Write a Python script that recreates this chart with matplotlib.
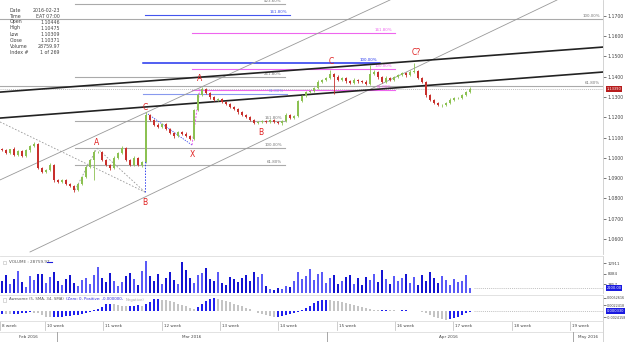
import numpy as np
import matplotlib
matplotlib.use("Agg")
import matplotlib.pyplot as plt
from matplotlib.patches import Rectangle

W, H = 625, 342

# ---- EUR/USD bars ----
first_open = 1.10446
closes = [
    1.1039, 1.1024, 1.1043, 1.1014, 1.1034, 1.1009, 1.1039, 1.1058, 1.1068, 1.0950,
    1.0930, 1.0940, 1.0965, 1.0891, 1.0881, 1.0891, 1.0871, 1.0861, 1.0841, 1.0871,
    1.0905, 1.0955, 1.0989, 1.1029, 1.1029, 1.0989, 1.0965, 1.0950, 1.0999, 1.1024,
    1.1048, 1.0989, 1.0965, 1.0999, 1.0965, 1.0979, 1.1211, 1.1186, 1.1162, 1.1152,
    1.1167, 1.1142, 1.1122, 1.1108, 1.1127, 1.1117, 1.1108, 1.1093, 1.1236, 1.1310,
    1.1339, 1.1320, 1.1300, 1.1285, 1.1290, 1.1275, 1.1265, 1.1250, 1.1241, 1.1226,
    1.1211, 1.1201, 1.1186, 1.1172, 1.1177, 1.1181, 1.1177, 1.1186, 1.1177, 1.1172,
    1.1181, 1.1211, 1.1196, 1.1206, 1.1280, 1.1305, 1.1324, 1.1329, 1.1344, 1.1374,
    1.1384, 1.1393, 1.1413, 1.1398, 1.1384, 1.1393, 1.1379, 1.1369, 1.1384, 1.1379,
    1.1374, 1.1364, 1.1413, 1.1423, 1.1398, 1.1374, 1.1393, 1.1384, 1.1398, 1.1408,
    1.1418, 1.1408, 1.1423, 1.1428, 1.1393, 1.1374, 1.1310, 1.1285, 1.1270, 1.1260,
    1.1260, 1.1270, 1.1285, 1.1295, 1.1295, 1.1310, 1.1324, 1.1339]
# wick lengths beyond the body, in pips
upper_wick = [
    4, 6, 3, 8, 5, 4, 7, 5, 9, 3,
    6, 4, 8, 3, 5, 6, 4, 7, 3, 5,
    6, 8, 5, 12, 4, 5, 7, 3, 8, 6,
    10, 4, 6, 9, 5, 4, 15, 6, 3, 8,
    5, 4, 7, 6, 3, 5, 8, 4, 6, 10,
    8, 5, 4, 6, 3, 7, 5, 4, 6, 3,
    5, 4, 3, 6, 5, 4, 7, 5, 3, 6,
    4, 8, 5, 3, 6, 5, 7, 4, 6, 8,
    5, 7, 20, 6, 9, 5, 7, 4, 8, 6,
    5, 9, 45, 10, 6, 5, 8, 4, 7, 5,
    6, 4, 9, 40, 6, 5, 3, 7, 4, 5,
    6, 4, 8, 5, 7, 6, 5, 8]
lower_wick = [
    5, 4, 7, 3, 6, 5, 4, 8, 3, 6,
    7, 5, 4, 9, 3, 6, 5, 4, 8, 5,
    6, 3, 7, 100, 5, 4, 6, 8, 3, 5,
    4, 7, 5, 3, 6, 8, 5, 4, 7, 3,
    6, 5, 4, 8, 5, 6, 3, 7, 5, 4,
    3, 6, 8, 5, 4, 7, 5, 6, 3, 8,
    5, 6, 4, 7, 5, 3, 6, 4, 7, 5,
    8, 4, 6, 5, 3, 7, 4, 6, 5, 3,
    6, 4, 5, 85, 7, 5, 12, 6, 4, 8,
    5, 7, 6, 5, 9, 4, 6, 5, 7, 4,
    5, 8, 4, 6, 5, 7, 9, 5, 4, 6,
    8, 5, 6, 4, 7, 5, 6, 4]
volumes = [
    5200, 7800, 3900, 6100, 9400, 4800, 2600, 7300, 5600, 8100,
    8300, 4200, 6900, 9000, 5100, 3300, 6200, 7700, 4400, 2900,
    5800, 6600, 3800, 7900, 11200, 6400, 4900, 8800, 5300, 3100,
    4600, 7200, 8600, 6000, 3500, 9300, 13900, 7400, 5000, 8200,
    4100, 6700, 8900, 5500, 3900, 13600, 9800, 6300, 4500, 7600,
    8700, 11000, 6200, 5100, 9100, 4200, 3600, 7000, 5900, 4700,
    6400, 8000, 5300, 9000, 6800, 8100, 3200, 1900, 1400, 2300,
    1700, 3100, 2500, 5400, 9000, 6100, 7300, 10500, 5800, 8200,
    9000, 4300, 6600, 7800, 3700, 5200, 6900, 8000, 4100, 6300,
    3500, 7100, 5600, 8400, 4800, 10000, 6200, 3900, 7400, 5100,
    6600, 8100, 4400, 6900, 3600, 7700, 5300, 9100, 6500, 4200,
    7300, 5800, 3400, 6100, 4600, 5200, 7600, 2100]
# awesome oscillator, x 1e-4
ao = [
    -11, -12, -12, -11, -10, -9, -7, -4, -6, -9,
    -15, -24, -25, -24, -23, -22, -21, -19, -17, -14,
    -10, -6, -2, 3, 10, 18, 27, 30, 27, 23,
    20, 19, 21, 22, 24, 22, 28, 38, 47, 50,
    46, 43, 39, 35, 30, 25, 20, 14, 10, 18,
    30, 42, 49, 52, 48, 44, 40, 35, 30, 25,
    19, 13, 7, 0, -6, -12, -17, -21, -23, -22,
    -20, -17, -13, -9, -4, 3, 12, 22, 32, 40,
    45, 46, 44, 42, 39, 35, 31, 27, 23, 19,
    15, 11, 7, 4, 3, 4, 6, 5, 3, 2,
    3, 4, 2, 1, 2, -3, -9, -16, -22, -27,
    -31, -34, -32, -28, -22, -16, -9, -3]

price_ticks = [1.06, 1.07, 1.08, 1.09, 1.10, 1.11, 1.12, 1.13, 1.14, 1.15, 1.16, 1.17]
vol_ticks = [3857, 8384, 12911]
ao_ticks = [0.0052616, 0.0022418, -0.0024158]
week_ticks = [-0.5, 10.75, 25.25, 40, 54.5, 69, 83.75, 98.25, 112.75, 127.5, 142]
week_labels = ["8 week", "10 week", "11 week", "12 week", "13 week", "14 week",
               "15 week", "16 week", "17 week", "18 week", "19 week"]
month_seps = [13.75, 81.25, 142.75]
month_pos = [6.5, 47.5, 111.5, 146.5]
month_labels = ["Feb 2016", "Mar 2016", "Apr 2016", "May 2016"]

# fibonacci levels: price, start bar, end bar, text, colour
fib_price = [1.1758, 1.1704, 1.1684, 1.1615, 1.1467, 1.1438, 1.1398, 1.1354, 1.1334, 1.1315, 1.1181, 1.1048, 1.0965]
fib_start = [18.25, 35.75, -0.5, 47.5, 35.25, 47.5, 18.25, -0.5, 47.5, 35.25, 18.25, 18.25, 18.25]
fib_end = [70.75, 72, 150.25, 98.25, 94.5, 98.25, 70.75, 150.25, 98.25, 71.25, 70.75, 70.75, 70.75]
fib_text = ["423.60%", "161.80%", "100.00%", "161.80%", "100.00%", "100.00%", "261.80%",
            "61.80%", "61.80%", "61.80%", "161.80%", "100.00%", "61.80%"]
fib_color = ["#aaaaaa", "#4455ee", "#aaaaaa", "#ee66ee", "#2233ee", "#ee66ee", "#aaaaaa",
             "#aaaaaa", "#ee66ee", "#8899ee", "#aaaaaa", "#aaaaaa", "#aaaaaa"]

# wave labels
wave_text = ["A", "B", "C", "X", "A", "B", "C", "C?"]
wave_bar = [23.75, 35.75, 35.75, 47.5, 49.5, 64.75, 82.25, 103.5]
wave_price = [1.1078, 1.0782, 1.1250, 1.1014, 1.1393, 1.1127, 1.1477, 1.1517]

XL = (-0.5, 150.25)


def pax(top, bottom):
    return fig.add_axes([0, 1 - bottom / H, 603 / W, (bottom - top) / H])


def box_label(a, y, txt, fc):
    a.text(1.006, y, txt, transform=a.get_yaxis_transform(), fontsize=2.6,
           color="white", va="center", ha="left",
           bbox=dict(boxstyle="square,pad=0.2", fc=fc, ec="none"), zorder=10)


fig = plt.figure(figsize=(W / 100, H / 100), dpi=100)
fig.patch.set_facecolor("white")

ax = pax(0, 254)
axv = pax(256, 293)
axa = pax(295, 321)
axt = pax(321, 342)

for a in (ax, axv, axa, axt):
    a.set_xlim(*XL)
    a.set_xticks([])
    for s in a.spines.values():
        s.set_visible(False)
    a.spines["right"].set_visible(True)
    a.spines["right"].set_color("#cccccc")
    a.spines["right"].set_linewidth(0.6)
    a.yaxis.tick_right()
    a.tick_params(axis="y", labelsize=3.3, length=2, width=0.5, pad=1.5,
                  colors="#444444")
for a in (axv, axa, axt):
    a.spines["top"].set_visible(True)
    a.spines["top"].set_color("#dddddd")
    a.spines["top"].set_linewidth(0.6)

# ---- price panel ----
ax.set_ylim(1.0526, 1.1778)
ax.set_yticks(price_ticks)
ax.set_yticklabels([f"{p:.4f}" for p in price_ticks])

closes_a = np.array(closes)
opens = np.concatenate([[first_open], closes_a[:-1]])
x = np.arange(len(closes))

for lv, s0, s1, t, c in zip(fib_price, fib_start, fib_end, fib_text, fib_color):
    lw = 1.1 if c == "#2233ee" else 0.8
    ax.plot([s0, s1], [lv, lv], color=c, lw=lw, zorder=1)
    ax.text(s1 - 0.8, lv + 0.0004, t, fontsize=2.9, color="#777777" if c == "#aaaaaa" else c,
            ha="right", va="bottom", zorder=2)

# channels and pattern lines
ax.plot([-0.5, 150.25], [1.1324, 1.1546], color="#222222", lw=1.2, zorder=3)
ax.plot([-0.5, 150.25], [1.1196, 1.1423], color="#222222", lw=1.2, zorder=3)
ax.plot([7, 138.75], [1.0536, 1.1778], color="#999999", lw=0.6, zorder=1)
ax.plot([-0.5, 97], [1.0891, 1.1778], color="#999999", lw=0.6, zorder=1)
for xs, ys in [([-0.5, 35.75], [1.1177, 1.0831]),
               ([18.25, 23.75], [1.0841, 1.1048]),
               ([23.75, 35.75], [1.1048, 1.0831])]:
    ax.plot(xs, ys, color="#999999", lw=0.6, ls=(0, (2, 2)), zorder=1)
ax.plot([35.75, 35.75], [1.0831, 1.1221], color="#3344ee", lw=0.7, ls=(0, (1.5, 1.5)), zorder=2)
ax.plot([36.5, 47.5], [1.1216, 1.1063], color="#3344ee", lw=0.6, ls=(0, (1.5, 1.5)), zorder=2)
ax.plot([47.5, 49.5], [1.1063, 1.1344], color="#ee55ee", lw=0.7, ls=(0, (2, 1.5)), zorder=2)

# candles
hi = np.maximum(opens, closes_a) + np.array(upper_wick) * 1e-4
lo = np.minimum(opens, closes_a) - np.array(lower_wick) * 1e-4
up = closes_a >= opens
ccol = np.where(up, "#8cc152", "#c8302c")
ax.vlines(x, lo, hi, colors=ccol, lw=0.6, zorder=4)
for i in range(len(x)):
    b0 = min(opens[i], closes_a[i])
    h = max(abs(closes_a[i] - opens[i]), 0.00012)
    ax.add_patch(Rectangle((x[i] - 0.36, b0), 0.72, h, color=ccol[i], lw=0, zorder=5))

for t, bx, py in zip(wave_text, wave_bar, wave_price):
    ax.text(bx, py, t, color="#e02020", fontsize=5.5, ha="center", va="center", zorder=6)

last = closes[-1]
ax.axhline(last, color="#aaaaaa", lw=0.5, ls=(0, (1.5, 1.5)), zorder=1)
box_label(ax, last, f"{last:.5f}", "#b71c1c")

# info box
info_k = ["Date", "Time", "Open", "High", "Low", "Close", "Volume", "Index #"]
info_v = ["2016-02-23", "EAT 07:00", "1.10446", "1.10475", "1.10309", "1.10371", "28759.97", "1 of 269"]
for j, (k, v) in enumerate(zip(info_k, info_v)):
    yy = 1 - (10 + 6 * j) / H
    fig.text(10 / W, yy, k, fontsize=3.4, color="#444444", va="center")
    fig.text(60 / W, yy, v, fontsize=3.4, color="#444444", va="center", ha="right")

# ---- volume panel ----
vcol = np.where(up, "#5a5af7", "#1414d2")
axv.bar(x, volumes, width=0.62, color=vcol, lw=0)
axv.set_ylim(0, 16000)
axv.set_yticks(vol_ticks)
axv.set_yticklabels([str(v) for v in vol_ticks])
axv.tick_params(axis="y", labelsize=2.9)
axv.plot([x[-1] + 1, 150.25], [volumes[-1], volumes[-1]], color="#aaaaaa", lw=0.5, ls=(0, (1.5, 1.5)))
box_label(axv, volumes[-1], f"{volumes[-1]:.2f}", "#1a1ae0")
fig.text(9 / W, 1 - 262 / H, "VOLUME : 28759.97", fontsize=3.0, color="#555555", va="center")
fig.add_artist(plt.Line2D([47 / W, 52 / W], [1 - 262 / H] * 2, color="#1a1ae0", lw=0.8))
fig.add_artist(Rectangle((3 / W, 1 - 264 / H), 3 / W, 3.5 / H, fc="white", ec="#bbbbbb", lw=0.4))

# ---- awesome oscillator ----
ao_a = np.array(ao) * 1e-4
rising = np.concatenate([[True], ao_a[1:] > ao_a[:-1]])
acol = np.where(rising, "#2020ee", "#c4c4c4")
axa.bar(x, ao_a, width=0.62, color=acol, lw=0)
axa.set_ylim(-0.0040, 0.0064)
axa.set_yticks(ao_ticks)
axa.set_yticklabels([f"{v:.7f}" for v in ao_ticks])
axa.tick_params(axis="y", labelsize=2.4, pad=1)
axa.plot([x[-1] + 1, 150.25], [0, 0], color="#aaaaaa", lw=0.5, ls=(0, (1.5, 1.5)))
box_label(axa, 0.0, "0.000330", "#1a1ae0")

# legend text of the oscillator, pieces chained left to right
ya = 1 - 299.5 / H
parts = [("Awesome (5, SMA, 34, SMA) ", "#555555"),
         ("(Zero: 0, Positive: -0.000000, ", "#2a2ae0"),
         ("Negative)", "#aaaaaa")]
fig.canvas.draw()
rend = fig.canvas.get_renderer()
xp = 9
for txt, col in parts:
    t = fig.text(xp / W, ya, txt, fontsize=2.8, color=col, va="center")
    xp += t.get_window_extent(rend).width + 1
fig.add_artist(Rectangle((3 / W, 1 - 301.5 / H), 3 / W, 3.5 / H, fc="white", ec="#bbbbbb", lw=0.4))

# ---- time axis ----
axt.set_ylim(0, 1)
axt.set_yticks([])
axt.axhline(0.48, color="#dddddd", lw=0.6)
for wt, wl in zip(week_ticks, week_labels):
    axt.plot([wt, wt], [0.55, 1], color="#bbbbbb", lw=0.5)
    axt.text(wt + 0.6, 0.74, wl, fontsize=3.0, color="#444444", va="center", ha="left")
for ms in month_seps:
    axt.plot([ms, ms], [0, 0.48], color="#999999", lw=0.6)
for mp, ml in zip(month_pos, month_labels):
    axt.text(mp, 0.22, ml, fontsize=3.0, color="#444444", va="center", ha="center")

fig.savefig("out.png", dpi=100, facecolor="white")
